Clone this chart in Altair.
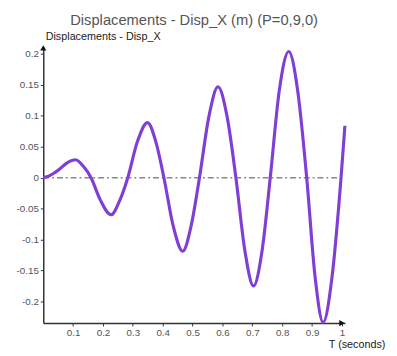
import altair as alt
import pandas as pd

# values
t_vals = [0.0, 0.02, 0.05, 0.08, 0.108, 0.135, 0.16, 0.19, 0.227, 0.255, 0.283,
          0.315, 0.349, 0.377, 0.404, 0.435, 0.467, 0.495, 0.523, 0.555, 0.585,
          0.615, 0.645, 0.675, 0.704, 0.732, 0.76, 0.79, 0.822, 0.852, 0.882,
          0.91, 0.937, 0.967, 0.997, 1.01]
disp_vals = [0.0, 0.003, 0.012, 0.024, 0.029, 0.018, 0.0, -0.035, -0.060, -0.038, 0.0,
             0.058, 0.089, 0.058, 0.0, -0.078, -0.119, -0.078, 0.0, 0.100, 0.147,
             0.100, 0.0, -0.118, -0.175, -0.120, 0.0, 0.140, 0.204, 0.140, 0.0,
             -0.160, -0.234, -0.160, 0.0, 0.084]
x_ticks = [0.1, 0.2, 0.3, 0.4, 0.5, 0.6, 0.7, 0.8, 0.9, 1]
y_ticks = [-0.2, -0.15, -0.1, -0.05, 0, 0.05, 0.1, 0.15, 0.2]
x_domain = [0, 1.01]
y_domain = [-0.235, 0.21]

df = pd.DataFrame({"t": t_vals, "d": disp_vals})
zero_df = pd.DataFrame({"t": [x_domain[0]], "t2": [x_domain[1]], "d": [0]})
arrow_df = pd.DataFrame({"t": [0.0, 1.0], "d": [y_domain[1], y_domain[0]],
                         "shape": ["triangle-up", "triangle-right"]})

axis_common = dict(domainColor="#333", domainWidth=1.5, tickColor="#333",
                   tickSize=3, labelColor="#555", labelFont="Liberation Sans",
                   labelFontSize=10, grid=False, titleFont="Liberation Sans",
                   titleFontWeight="normal", titleColor="#222", titleFontSize=11,
                   labelOverlap=False, labelFlush=False, labelBound=False)

x = alt.X("t:Q", scale=alt.Scale(domain=x_domain, nice=False, zero=False),
          axis=alt.Axis(values=x_ticks, labelExpr="'' + datum.value",
                        title="T (seconds)", titleAlign="left", titleX=291,
                        titleY=25, titleBaseline="alphabetic", labelPadding=2,
                        **axis_common))
y = alt.Y("d:Q", scale=alt.Scale(domain=y_domain, nice=False, zero=False),
          axis=alt.Axis(values=y_ticks, labelExpr="'' + datum.value",
                        title="Displacements - Disp_X", titleAngle=0,
                        titleAlign="left", titleX=2, titleY=-8,
                        titleBaseline="alphabetic", labelPadding=2,
                        **axis_common))

zero = alt.Chart(zero_df).mark_rule(color="#888", strokeWidth=1.5,
                                    strokeDash=[6, 3, 2, 3]).encode(
    x=x, x2="t2:Q", y=y)

line = alt.Chart(df).mark_line(color="#7f3fd4", strokeWidth=3.2,
                               interpolate="monotone").encode(x=x, y=y)

arrows = alt.Chart(arrow_df).mark_point(filled=True, color="#111", size=40,
                                        opacity=1, clip=False).encode(
    x=x, y=y, shape=alt.Shape("shape:N", scale=None))

chart = (zero + line + arrows).properties(
    width=308, height=281,
    autosize=alt.AutoSizeParams(type="none"),
    padding={"left": 36, "top": 37, "right": 45, "bottom": 30},
    title=alt.Title("Displacements - Disp_X (m) (P=0,9,0)", font="Liberation Sans",
                    fontSize=15, fontWeight="normal", color="#555",
                    anchor="middle", offset=3),
).configure_view(stroke=None)

chart.save("out.html", embed_options={"renderer": "svg", "actions": False})
